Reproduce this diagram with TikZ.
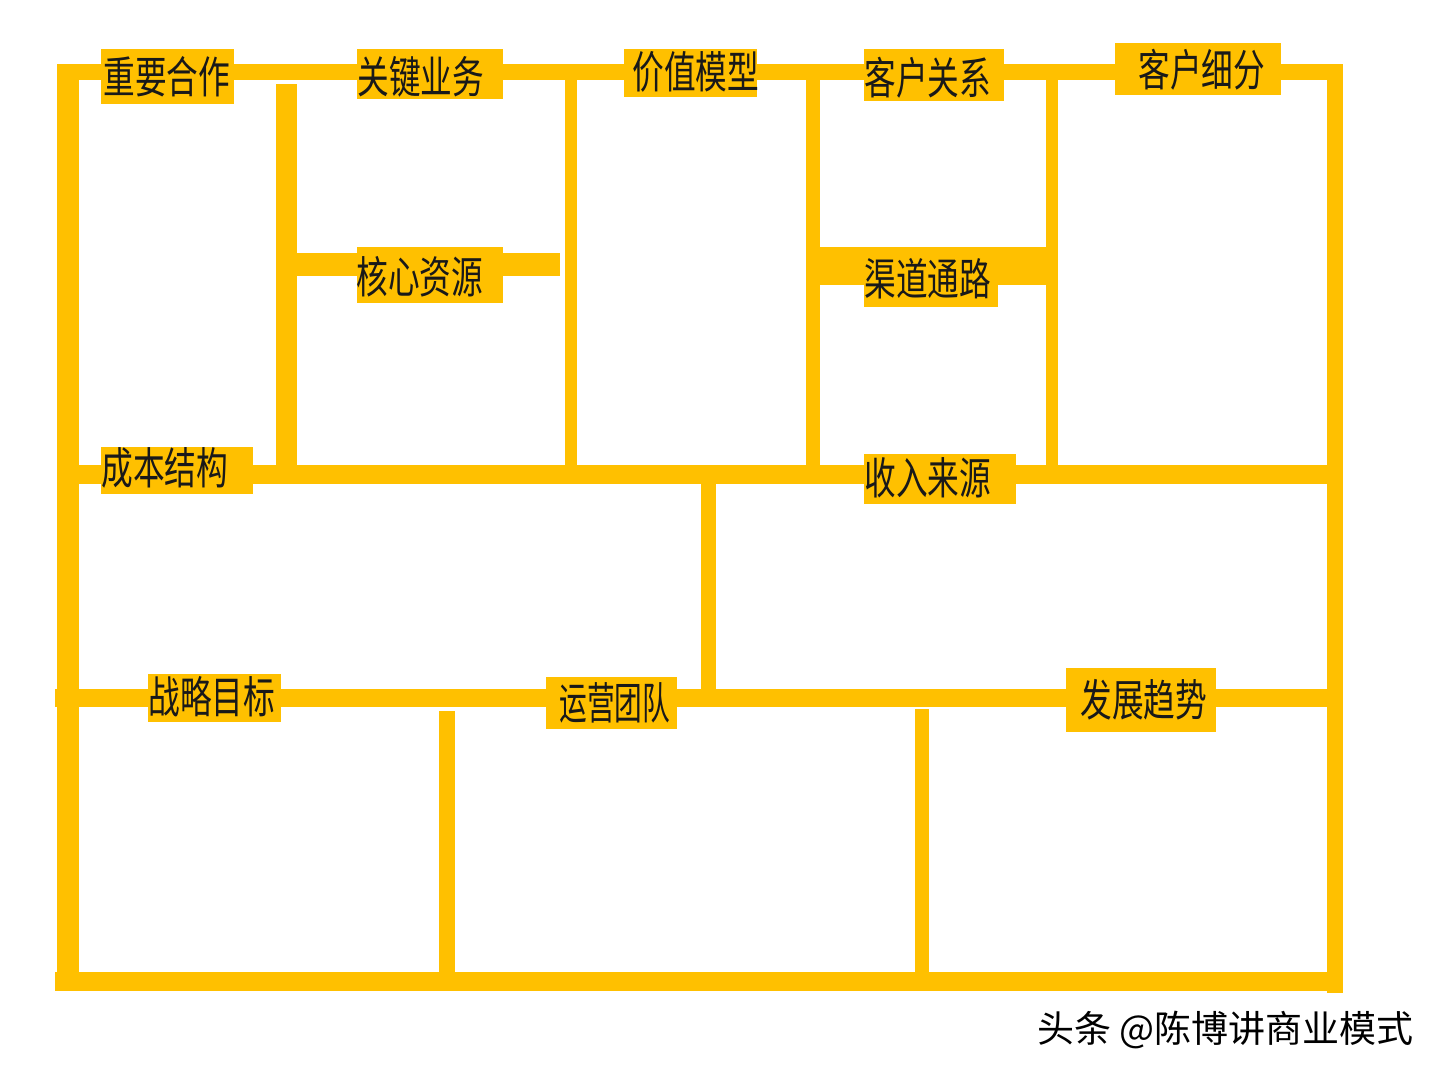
\documentclass[tikz,border=0pt]{standalone}
\usepackage{fontspec}
\newfontfamily\cjk[FakeStretch=0.72]{Noto Sans CJK SC}
\newfontfamily\cjkn[FakeStretch=0.63]{Noto Sans CJK SC}
\newfontfamily\cjkw{Noto Sans CJK SC}
\definecolor{gold}{RGB}{255,192,0}
\begin{document}
\begin{tikzpicture}[x=0.5pt,y=-0.5pt,
  bar/.style={fill=gold},
  lbl/.style={anchor=west,inner sep=0pt,font=\cjk\fontsize{22}{26}\selectfont,text=black!90},
  lbln/.style={lbl,font=\cjkn\fontsize{22}{26}\selectfont}]
\useasboundingbox[fill=white] (0,0) rectangle (1440,1080);
% frame and dividers
\fill[bar] (57,64) rectangle (1343,80);
\fill[bar] (57,64) rectangle (79,990);
\fill[bar] (1327,64) rectangle (1343,993);
\fill[bar] (55,972) rectangle (1343,991);
\fill[bar] (276,84) rectangle (297,466);
\fill[bar] (297,253) rectangle (560,276);
\fill[bar] (565,64) rectangle (577,466);
\fill[bar] (806,64) rectangle (820,466);
\fill[bar] (820,247) rectangle (1046,285);
\fill[bar] (1046,64) rectangle (1058,466);
\fill[bar] (57,465) rectangle (1343,484);
\fill[bar] (701,480) rectangle (716,692);
\fill[bar] (55,689) rectangle (1343,707);
\fill[bar] (439,711) rectangle (455,974);
\fill[bar] (915,709) rectangle (929,974);
% label boxes
\fill[bar] (101,49) rectangle (234,104);
\fill[bar] (357,49) rectangle (503,99);
\fill[bar] (624,49) rectangle (757,97);
\fill[bar] (864,49) rectangle (1004,101);
\fill[bar] (1115,43) rectangle (1281,95);
\fill[bar] (357,247) rectangle (503,303);
\fill[bar] (864,247) rectangle (998,307);
\fill[bar] (101,447) rectangle (253,494);
\fill[bar] (864,454) rectangle (1016,504);
\fill[bar] (148,674) rectangle (281,722);
\fill[bar] (546,677) rectangle (677,729);
\fill[bar] (1066,668) rectangle (1216,732);
% labels
\node[lbl] (zyhz) at (103,77) {重要合作};
\node[lbl] (gjyw) at (357,77) {关键业务};
\node[lbl] (jzmx) at (632,72) {价值模型};
\node[lbl] (khgx) at (864,78) {客户关系};
\node[lbl] (khxf) at (1138,70) {客户细分};
\node[lbl] (hxzy) at (356,277) {核心资源};
\node[lbl] (qdtl) at (864,279) {渠道通路};
\node[lbl] (cbjg) at (101,468) {成本结构};
\node[lbl] (srly) at (864,478) {收入来源};
\node[lbl] (zlmb) at (148,697) {战略目标};
\node[lbln] (yytd) at (559,703) {运营团队};
\node[lbl] (fzqs) at (1080,700) {发展趋势};
\node[anchor=west,inner sep=0pt,font=\cjkw\fontsize{18.5}{22}\selectfont] (wm) at (1037,1030) {头条 @陈博讲商业模式};
\end{tikzpicture}
\end{document}
